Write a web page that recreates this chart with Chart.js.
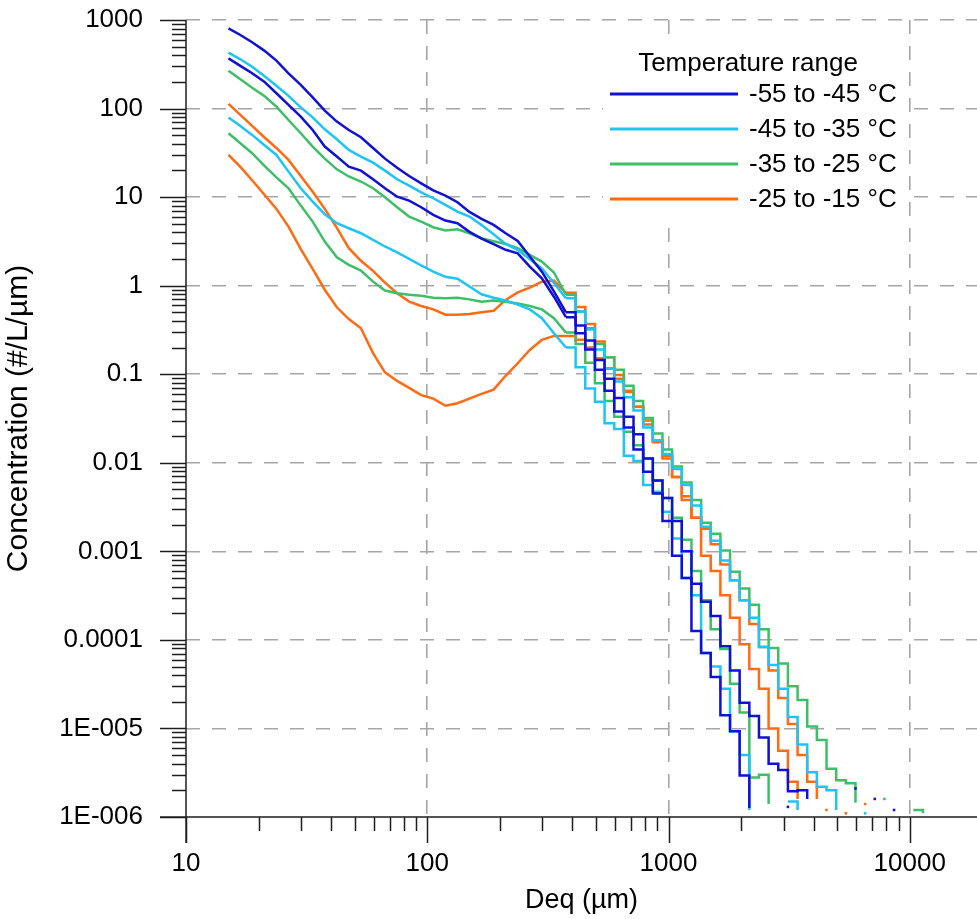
<!DOCTYPE html>
<html>
<head>
<meta charset="utf-8">
<title>Particle size distributions by temperature range</title>
<script src="https://cdn.jsdelivr.net/npm/chart.js@4.4.1/dist/chart.umd.min.js"></script>
<style>
  html, body { margin: 0; padding: 0; background: #ffffff; }
  #wrap { width: 977px; height: 919px; }
</style>
</head>
<body>
<div id="wrap"><canvas id="psd" width="977" height="919"></canvas></div>
<script>
// Equivalent diameter (µm): fine grid for the smooth small-particle part
const sizeSmooth = [15.0, 16.8, 18.8, 21.1, 23.7, 26.6, 29.9, 33.5, 37.6, 42.2, 47.3, 53.1, 59.6, 66.8,
  75.0, 84.1, 94.4, 105.9, 118.9, 133.4, 149.6, 167.9, 188.4, 211.3, 237.1, 266.1, 298.5, 335.0, 375.8];

// Equivalent diameter (µm): size bins of the large-particle tail (drawn as steps)
const sizeBins = [375.8, 412.1, 451.9, 495.5, 543.3, 595.7, 653.1, 716.1, 785.2, 861.0, 944.1, 1035,
  1135, 1245, 1365, 1496, 1641, 1799, 1972, 2163, 2371, 2600, 2851, 3126, 3428, 3758, 4121, 4519,
  4955, 5433, 5957, 6531, 7161, 7852, 8610, 9441, 10351, 11350, 12445];

// Concentration (#/L/µm), -55 to -45 °C
const t55aSmooth = [805, 677, 560, 451, 348, 250, 185, 134, 94.8, 71.3, 57.3, 47.4, 35.9, 27.2, 21.4,
  17.3, 14.3, 11.9, 10.4, 8.75, 6.81, 5.67, 4.85, 3.91, 3.20, 2.13, 1.44, 0.86, 0.50];
const t55bSmooth = [369, 303, 250, 201, 149, 110, 81.1, 57.3, 37.2, 28.7, 22.1, 19.9, 15.9, 12.6, 10.1,
  9.14, 7.69, 6.30, 5.43, 5.07, 4.05, 3.40, 2.94, 2.54, 2.32, 1.64, 1.21, 0.75, 0.44];
const t55aBins = [0.50, 0.355, 0.24, 0.145, 0.089, 0.054, 0.033, 0.021, 0.0112, 0.0063, 0.0040, 0.0022,
  0.0010, 4.3e-4, 2.7e-4, 1.86e-4, 8.5e-5, 4.5e-5, 1.95e-5, 1.38e-5, 7.9e-6, 4.0e-6, 3.4e-6, 1.95e-6,
  2.0e-6, 1.6e-6, 0, null, null, null, 2.1e-6, null, 1.6e-6, null, 1.2e-6, null, null, null, null];
const t55bBins = [0.44, 0.29, 0.19, 0.112, 0.065, 0.038, 0.025, 0.0141, 0.0079, 0.0045, 0.0022, 8.9e-4,
  5.0e-4, 1.26e-4, 7.1e-5, 3.8e-5, 1.41e-5, 9.3e-6, 2.95e-6, 1.26e-6, 0, null, null, 1.3e-6, null,
  null, null, null, null, null, null, null, null, null, null, null, null, null, null];

// Concentration (#/L/µm), -45 to -35 °C
const t45aSmooth = [428, 360, 297, 233, 181, 139, 103, 79.6, 58.3, 45.0, 34.1, 28.7, 24.5, 19.9, 15.9,
  13.5, 11.3, 9.71, 8.16, 6.87, 6.03, 4.85, 3.81, 2.96, 2.54, 1.99, 1.57, 1.07, 0.72];
const t45bSmooth = [79.1, 63.7, 50.4, 38.8, 29.9, 19.4, 12.6, 8.91, 6.41, 5.07, 4.45, 3.91, 3.29, 2.77,
  2.37, 2.01, 1.69, 1.44, 1.26, 1.20, 0.98, 0.80, 0.73, 0.68, 0.61, 0.54, 0.43, 0.29, 0.20];
const t45aBins = [0.72, 0.51, 0.32, 0.19, 0.117, 0.083, 0.055, 0.039, 0.025, 0.0178, 0.0126, 0.0085,
  0.0056, 0.0033, 0.0019, 0.00132, 7.9e-4, 4.7e-4, 2.8e-4, 1.78e-4, 8.3e-5, 5.2e-5, 2.8e-5, 1.35e-5,
  6.6e-6, 3.2e-6, 2.2e-6, 2.0e-6, 1.2e-6, 0, null, 1.1e-6, null, null, null, null, null, null, null];
const t45bBins = [0.20, 0.12, 0.069, 0.049, 0.028, 0.024, 0.012, 0.0105, 0.0056, 0.0047, 0.0028, 0.0014,
  5.0e-4, 3.2e-4, 7.1e-5, 5.0e-5, 2.8e-5, 9.3e-6, 5.0e-6, 1.2e-6, 0, null, null, 1.5e-6, 1.2e-6, 0,
  null, null, null, null, null, null, null, null, null, null, null, null, null];

// Concentration (#/L/µm), -35 to -25 °C
const t35aSmooth = [268, 214, 172, 139, 105, 74.3, 52.6, 37.2, 27.2, 20.6, 17.1, 15.0, 12.6, 9.96, 7.69,
  6.03, 5.29, 4.57, 4.19, 4.34, 3.91, 3.43, 3.18, 2.96, 2.65, 2.23, 1.87, 1.41, 0.79];
const t35bSmooth = [52.6, 40.6, 31.3, 22.7, 16.7, 12.6, 8.02, 5.29, 3.15, 2.09, 1.72, 1.48, 1.11, 0.88,
  0.82, 0.79, 0.77, 0.73, 0.72, 0.73, 0.70, 0.66, 0.68, 0.66, 0.63, 0.59, 0.54, 0.43, 0.295];
const t35aBins = [0.79, 0.51, 0.33, 0.22, 0.155, 0.112, 0.074, 0.050, 0.032, 0.0214, 0.0141, 0.0091,
  0.0060, 0.0038, 0.0021, 0.00158, 0.00102, 5.9e-4, 3.8e-4, 2.5e-4, 1.32e-4, 8.1e-5, 5.4e-5, 3.0e-5,
  2.1e-5, 1.05e-5, 7.4e-6, 3.5e-6, 2.6e-6, 2.4e-6, 1.45e-6, 0, null, 1.6e-6, null, null, 1.2e-6, 1.1e-6, null];
const t35bBins = [0.295, 0.22, 0.135, 0.079, 0.050, 0.033, 0.0224, 0.0158, 0.0112, 0.0063, 0.0040, 0.0024,
  0.00135, 6.0e-4, 2.8e-4, 1.32e-4, 7.9e-5, 3.2e-5, 1.51e-5, 2.8e-6, 3.0e-6, 1.4e-6, 0, null, null,
  null, null, null, null, null, null, null, null, null, null, null, null, null, null];

// Concentration (#/L/µm), -25 to -15 °C
const t25aSmooth = [113, 84.8, 63.7, 47.4, 35.9, 26.3, 17.3, 11.5, 7.36, 4.49, 2.65, 1.91, 1.47, 1.08,
  0.82, 0.66, 0.59, 0.54, 0.47, 0.47, 0.48, 0.50, 0.52, 0.69, 0.84, 0.95, 1.11, 1.14, 0.83];
const t25bSmooth = [29.9, 21.9, 15.5, 10.7, 7.36, 4.65, 2.58, 1.55, 0.90, 0.57, 0.42, 0.33, 0.173, 0.105,
  0.084, 0.070, 0.058, 0.053, 0.044, 0.047, 0.053, 0.060, 0.067, 0.096, 0.133, 0.188, 0.244, 0.271, 0.27];
const t25aBins = [0.83, 0.575, 0.37, 0.234, 0.155, 0.098, 0.063, 0.043, 0.027, 0.017, 0.012, 0.0069,
  0.0038, 0.0024, 0.0018, 0.0012, 7.1e-4, 4.7e-4, 2.8e-4, 1.51e-4, 8.3e-5, 4.5e-5, 2.2e-5, 1.12e-5,
  5.0e-6, 2.5e-6, 1.6e-6, 0, null, 1.1e-6, null, 1.4e-6, null, null, null, null, null, null, null];
const t25bBins = [0.27, 0.245, 0.20, 0.151, 0.115, 0.089, 0.065, 0.043, 0.030, 0.0178, 0.0112, 0.0069,
  0.0042, 0.0024, 8.9e-4, 6.0e-4, 3.2e-4, 1.78e-4, 8.9e-5, 4.7e-5, 2.8e-5, 1.0e-5, 5.6e-6, 2.5e-6,
  1.6e-6, 0, null, 1.2e-6, null, null, null, null, null, null, null, null, null, null, null];

// Temperature ranges (legend) and their line colours
const rangeLabels = ['-55 to -45 °C', '-45 to -35 °C', '-35 to -25 °C', '-25 to -15 °C'];
const rangeColors = ['#1010d6', '#1ec4f4', '#3dbf68', '#ff6a12'];
const legendTitle = 'Temperature range';

// Axis ticks and their labels
const xMajorTicks = [10, 100, 1000, 10000];
const xTickLabels = ['10', '100', '1000', '10000'];
const yMajorTicks = [1e-6, 1e-5, 1e-4, 1e-3, 0.01, 0.1, 1, 10, 100, 1000];
const yTickLabels = ['1E-006', '1E-005', '0.0001', '0.001', '0.01', '0.1', '1', '10', '100', '1000'];

const X_MIN = 10, X_MAX = 19000, Y_MIN = 1e-6, Y_MAX = 1000;
const MAJOR_TICK = 26, MINOR_TICK = 14;
const FONT = "'Liberation Sans', Arial, Helvetica, sans-serif";

const curves = [
  { range: 0, smooth: t55aSmooth, bins: t55aBins },
  { range: 0, smooth: t55bSmooth, bins: t55bBins },
  { range: 1, smooth: t45aSmooth, bins: t45aBins },
  { range: 1, smooth: t45bSmooth, bins: t45bBins },
  { range: 2, smooth: t35aSmooth, bins: t35aBins },
  { range: 2, smooth: t35bSmooth, bins: t35bBins },
  { range: 3, smooth: t25aSmooth, bins: t25aBins },
  { range: 3, smooth: t25bSmooth, bins: t25bBins }
];

// log-spaced tick positions: each decade's 1..9 multiples inside [min, max]
function logTicks(majors, min, max) {
  const out = [];
  majors.forEach(m => {
    for (let k = 1; k <= 9; k++) {
      const v = m * k;
      if (v >= min * 0.999999 && v <= max * 1.000001) out.push({ value: v, major: k === 1 });
    }
  });
  return out;
}
const sameValue = (a, b) => Math.abs(Math.log10(a) - Math.log10(b)) < 1e-6;
function labelFor(v, majors, labels) {
  const i = majors.findIndex(m => sameValue(m, v));
  return i >= 0 ? labels[i] : '';
}
function gridColor(c, majors, axisValue) {
  const v = c.tick && c.tick.value;
  if (v == null || sameValue(v, axisValue)) return 'rgba(0,0,0,0)';
  return majors.some(m => sameValue(m, v)) ? '#a6a6a6' : 'rgba(0,0,0,0)';
}

// a bin that stands alone (no neighbours) is shown as a small dot
function isolatedRadius(ctx) {
  const d = ctx.dataset.data, i = ctx.dataIndex;
  const v = d[i] ? d[i].y : null;
  if (v == null || v === 0) return 0;
  const p = i > 0 ? d[i - 1].y : null;
  const n = i < d.length - 1 ? d[i + 1].y : null;
  return (p == null && n == null) ? 1.8 : 0;
}

const datasets = [];
curves.forEach(cv => {
  const color = rangeColors[cv.range];
  datasets.push({
    data: sizeSmooth.map((d, i) => ({ x: d, y: cv.smooth[i] })),
    borderColor: color, borderWidth: 2.5, pointRadius: 0, tension: 0
  });
  datasets.push({
    data: sizeBins.map((d, i) => ({ x: d, y: cv.bins[i] })),
    borderColor: color, backgroundColor: color, borderWidth: 2.5, stepped: true,
    pointStyle: 'rect', pointRadius: isolatedRadius, pointBorderWidth: 0, spanGaps: false
  });
});

// axis lines plus major/minor tick marks, drawn from the scales' own ticks
const axisFrame = {
  id: 'axisFrame',
  afterDatasetsDraw(chart) {
    const { ctx, chartArea: a, scales: { x, y } } = chart;
    ctx.save();
    ctx.strokeStyle = '#1e1e1e';
    ctx.lineWidth = 1.5;
    ctx.beginPath();
    ctx.moveTo(a.left, a.top);
    ctx.lineTo(a.left, a.bottom + MAJOR_TICK);
    ctx.moveTo(a.left - MAJOR_TICK, a.bottom);
    ctx.lineTo(a.right, a.bottom);
    y.ticks.forEach(t => {
      const py = Math.round(y.getPixelForValue(t.value)) + 0.5;
      ctx.moveTo(a.left - (t.major ? MAJOR_TICK : MINOR_TICK), py);
      ctx.lineTo(a.left, py);
    });
    x.ticks.forEach(t => {
      const px = Math.round(x.getPixelForValue(t.value)) + 0.5;
      ctx.moveTo(px, a.bottom);
      ctx.lineTo(px, a.bottom + (t.major ? MAJOR_TICK : MINOR_TICK));
    });
    ctx.stroke();
    ctx.restore();
  }
};

// legend on an opaque white panel in the upper right of the plot
const rangeLegend = {
  id: 'rangeLegend',
  afterDraw(chart) {
    const { ctx } = chart;
    ctx.save();
    ctx.fillStyle = '#ffffff';
    ctx.fillRect(603, 44, 304, 172);
    ctx.fillStyle = '#000';
    ctx.font = '26px ' + FONT;
    ctx.textBaseline = 'middle';
    ctx.textAlign = 'center';
    ctx.fillText(legendTitle, 748, 64);
    ctx.textAlign = 'left';
    rangeLabels.forEach((lab, i) => {
      const yy = 94 + i * 35;
      ctx.strokeStyle = rangeColors[i];
      ctx.lineWidth = 3;
      ctx.beginPath();
      ctx.moveTo(610, yy);
      ctx.lineTo(738, yy);
      ctx.stroke();
      ctx.fillText(lab, 749, yy + 1);
    });
    ctx.restore();
  }
};

Chart.defaults.font.family = FONT;
Chart.defaults.color = '#000';

new Chart(document.getElementById('psd'), {
  type: 'line',
  data: { datasets },
  plugins: [axisFrame, rangeLegend],
  options: {
    responsive: false,
    animation: false,
    events: [],
    devicePixelRatio: 1,
    layout: { padding: { top: 20, right: 0, bottom: 0, left: 0 } },
    plugins: { legend: { display: false }, tooltip: { enabled: false } },
    scales: {
      x: {
        type: 'logarithmic', position: 'bottom', min: X_MIN, max: X_MAX,
        afterFit: s => { s.height = 102; },
        afterBuildTicks: s => { s.ticks = logTicks(xMajorTicks, X_MIN, X_MAX); },
        ticks: {
          autoSkip: false, maxRotation: 0, minRotation: 0, padding: 0, color: '#000',
          font: { size: 26 }, callback: v => labelFor(v, xMajorTicks, xTickLabels)
        },
        // the label gap comes from an invisible tick length; visible ticks are drawn by axisFrame
        grid: {
          drawTicks: true, tickLength: 31, tickColor: 'rgba(0,0,0,0)', lineWidth: 1.6,
          color: c => gridColor(c, xMajorTicks, X_MIN)
        },
        border: { display: false, dash: [14, 12] },
        title: { display: true, text: 'Deq (µm)', color: '#000', font: { size: 27 }, padding: { top: 0, bottom: 2 } }
      },
      y: {
        type: 'logarithmic', position: 'left', min: Y_MIN, max: Y_MAX,
        afterFit: s => { s.width = 186; },
        afterBuildTicks: s => { s.ticks = logTicks(yMajorTicks, Y_MIN, Y_MAX); },
        ticks: {
          autoSkip: false, padding: 0, color: '#000',
          font: { size: 26 }, callback: v => labelFor(v, yMajorTicks, yTickLabels)
        },
        grid: {
          drawTicks: true, tickLength: 43, tickColor: 'rgba(0,0,0,0)', lineWidth: 1.6,
          color: c => gridColor(c, yMajorTicks, Y_MIN)
        },
        border: { display: false, dash: [14, 12] },
        title: { display: true, text: 'Concentration (#/L/µm)', color: '#000', font: { size: 30 }, padding: { top: 1, bottom: 0 } }
      }
    }
  }
});
</script>
</body>
</html>
